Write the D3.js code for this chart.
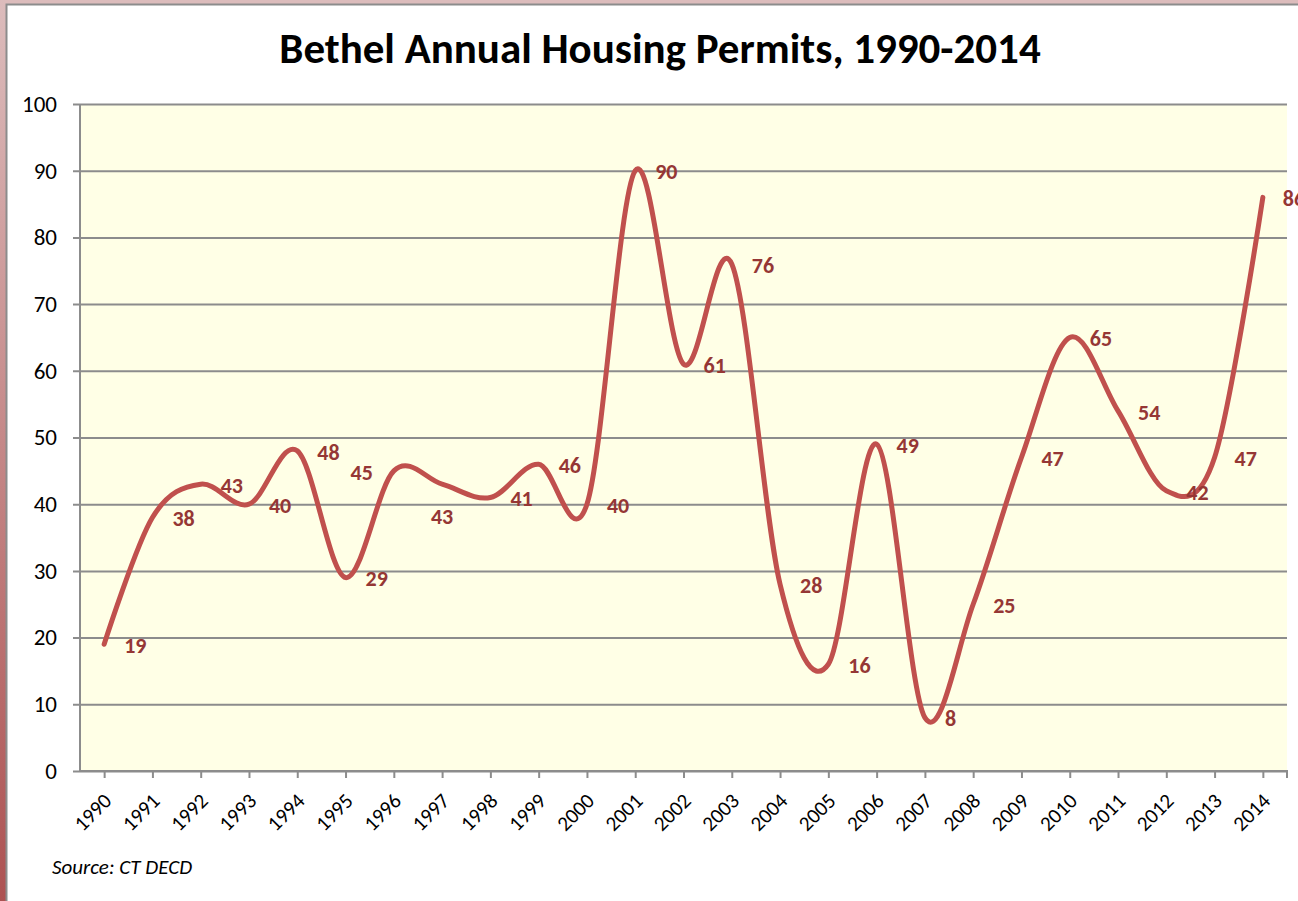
<!DOCTYPE html>
<html>
<head>
<meta charset="utf-8">
<script src="https://cdn.jsdelivr.net/npm/d3@7"></script>
<style>
  body { margin: 0; background: #fff; }
  svg { display: block; }
</style>
</head>
<body>
<div id="chart"></div>
<script>
var years = ['1990','1991','1992','1993','1994','1995','1996','1997','1998','1999','2000','2001','2002',
             '2003','2004','2005','2006','2007','2008','2009','2010','2011','2012','2013','2014'];
var permits = [19, 38, 43, 40, 48, 29, 45, 43, 41, 46, 40, 90, 61, 76, 28, 16, 49, 8, 25, 47, 65, 54, 42, 47, 86];
var yTicks = [0, 10, 20, 30, 40, 50, 60, 70, 80, 90, 100];
var title = 'Bethel Annual Housing Permits, 1990-2014';
var source = 'Source: CT DECD';

// where a data label sits relative to its point (Excel default is right of the point)
var labelPlace = { '1996': 'left', '1997': 'below' };

var width = 1298;
var height = 901;
var plot = { left: 80, right: 1287, top: 104, bottom: 771 };
var font = 'Carlito, Lato, sans-serif';

var svg = d3.select('#chart')
  .append('svg')
  .attr('width', width)
  .attr('height', height);

// frame
var defs = svg.append('defs');
var grad = defs.append('linearGradient')
  .attr('id', 'edge')
  .attr('x1', 0).attr('y1', 0).attr('x2', 0).attr('y2', 1);
grad.append('stop').attr('offset', '0%').attr('stop-color', '#dcbcbc');
grad.append('stop').attr('offset', '100%').attr('stop-color', '#ad5252');

svg.append('rect').attr('x', 0).attr('y', 0).attr('width', width).attr('height', 5).attr('fill', '#dcbcbc');
svg.append('rect').attr('x', 0).attr('y', 0).attr('width', 6).attr('height', height).attr('fill', 'url(#edge)');
svg.append('path')
  .attr('d', 'M6.5,' + height + 'V4.5H' + width)
  .attr('fill', 'none')
  .attr('stroke', '#8c8c8c')
  .attr('stroke-width', 2);

var x = d3.scalePoint()
  .domain(years)
  .range([plot.left, plot.right])
  .padding(0.5);

var y = d3.scaleLinear()
  .domain([0, 100])
  .range([plot.bottom, plot.top]);

svg.append('rect')
  .attr('x', plot.left)
  .attr('y', plot.top)
  .attr('width', plot.right - plot.left)
  .attr('height', plot.bottom - plot.top)
  .attr('fill', '#ffffe6');

// gridlines + y axis
var yAxis = svg.append('g')
  .attr('transform', 'translate(' + plot.left + ',0)')
  .call(d3.axisLeft(y)
    .tickValues(yTicks)
    .tickSize(-(plot.right - plot.left))
    .tickPadding(23)
    .tickSizeOuter(0));
yAxis.select('.domain').remove();
yAxis.selectAll('.tick line')
  .attr('x1', -7)
  .attr('stroke', '#8c8c8c')
  .attr('stroke-width', 2);
yAxis.selectAll('.tick text')
  .attr('font-family', font)
  .attr('font-size', 23)
  .attr('fill', '#000');

svg.append('line')
  .attr('x1', plot.left).attr('x2', plot.left)
  .attr('y1', plot.top).attr('y2', plot.bottom)
  .attr('stroke', '#8c8c8c')
  .attr('stroke-width', 2);

// x axis
var xAxis = svg.append('g')
  .attr('transform', 'translate(0,' + plot.bottom + ')')
  .call(d3.axisBottom(x).tickSize(7).tickSizeOuter(0));
xAxis.select('.domain')
  .attr('d', 'M' + plot.left + ',0H' + plot.right + 'V7')
  .attr('stroke', '#8c8c8c')
  .attr('stroke-width', 2);
xAxis.selectAll('.tick line')
  .attr('stroke', '#8c8c8c')
  .attr('stroke-width', 2);
xAxis.selectAll('.tick text')
  .attr('font-family', font)
  .attr('font-size', 21)
  .attr('fill', '#000')
  .attr('text-anchor', 'end')
  .attr('x', 0)
  .attr('y', 0)
  .attr('dy', '0.35em')
  .attr('transform', 'translate(3,26) rotate(-45)');

// line
var line = d3.line()
  .x(function(d, i) { return x(years[i]); })
  .y(function(d) { return y(d); })
  .curve(d3.curveCardinal.tension(0));

svg.append('path')
  .datum(permits)
  .attr('d', line)
  .attr('fill', 'none')
  .attr('stroke', '#c0504d')
  .attr('stroke-width', 5)
  .attr('stroke-linejoin', 'round')
  .attr('stroke-linecap', 'round');

// data labels
svg.append('g')
  .selectAll('text')
  .data(permits)
  .enter()
  .append('text')
  .attr('font-family', font)
  .attr('font-size', 22)
  .attr('font-weight', 'bold')
  .attr('fill', '#953735')
  .attr('dy', '0.35em')
  .attr('x', function(d, i) {
    var place = labelPlace[years[i]];
    if (place === 'left') return x(years[i]) - 21;
    if (place === 'below') return x(years[i]);
    return x(years[i]) + 20;
  })
  .attr('y', function(d, i) {
    var place = labelPlace[years[i]];
    if (place === 'below') return y(d) + 32;
    return y(d) + 1;
  })
  .attr('text-anchor', function(d, i) {
    var place = labelPlace[years[i]];
    if (place === 'left') return 'end';
    if (place === 'below') return 'middle';
    return 'start';
  })
  .text(function(d) { return d; });

// title and source
svg.append('text')
  .attr('x', 660)
  .attr('y', 63)
  .attr('text-anchor', 'middle')
  .attr('font-family', font)
  .attr('font-size', 43)
  .attr('font-weight', 'bold')
  .attr('fill', '#000')
  .text(title);

svg.append('text')
  .attr('x', 52)
  .attr('y', 874)
  .attr('font-family', font)
  .attr('font-size', 21)
  .attr('font-style', 'italic')
  .attr('fill', '#000')
  .text(source);
</script>
</body>
</html>
